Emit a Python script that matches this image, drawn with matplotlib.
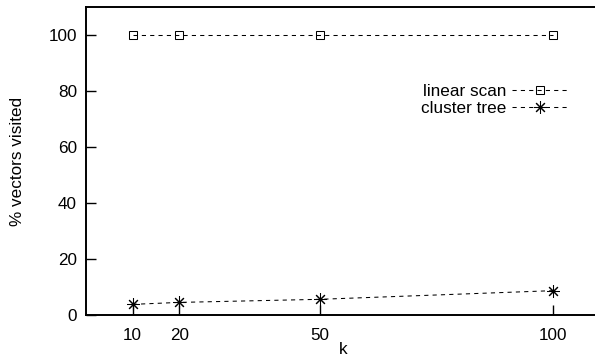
import matplotlib
matplotlib.use("Agg")
import matplotlib.pyplot as plt

plt.rcParams['font.family'] = ['Liberation Sans', 'DejaVu Sans']

k = [10, 20, 50, 100]
linear_scan = [100, 100, 100, 100]
cluster_tree = [3.8, 4.5, 5.6, 8.7]
xticks = [10, 20, 50, 100]
yticks = [0, 20, 40, 60, 80, 100]

W, H = 595, 360
fig = plt.figure(figsize=(W/100, H/100), dpi=100)
# axes: left at 86px, bottom at 315px, top at 7px, right just past the image edge
ax = fig.add_axes([86/W, (H-315)/H, (600-86)/W, (315-7)/H])

fs = 12.3
ax.plot(k, linear_scan, color='black', lw=0.75, dashes=(4, 4),
        marker='s', ms=6, mfc='none', mec='black', mew=0.75, label='linear scan')
ax.plot(k, cluster_tree, color='black', lw=0.75, dashes=(4, 4),
        marker=(8, 2, 0), ms=9, mec='black', mew=0.75, label='cluster tree')

ax.set_xlim(0, 110)
ax.set_ylim(0, 110)
ax.set_xticks(xticks)
ax.set_yticks(yticks)
ax.tick_params(direction='in', length=7, width=1, labelsize=fs,
               top=False, right=False)
ax.tick_params(axis='x', pad=9.5)
ax.tick_params(axis='y', pad=6.5)
for s in ['left', 'bottom', 'top']:
    ax.spines[s].set_linewidth(1.4)
ax.spines['right'].set_visible(False)

ax.set_xlabel('k', fontsize=fs, labelpad=-1)
ax.set_ylabel('% vectors visited', fontsize=fs, labelpad=17)

leg = ax.legend(loc='upper right', bbox_to_anchor=(568/W, (H-84)/H),
                bbox_transform=fig.transFigure, frameon=False, fontsize=fs,
                markerfirst=False, numpoints=1, handlelength=3.3,
                handletextpad=0.3, borderpad=0, borderaxespad=0,
                labelspacing=0.12)

fig.savefig('out.png', dpi=100)
